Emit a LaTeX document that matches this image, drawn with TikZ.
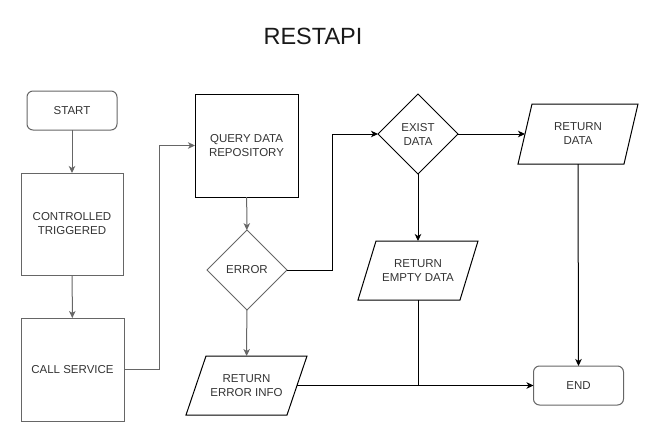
\documentclass[tikz,border=0pt]{standalone}
\usepackage{fontspec}
\setmainfont{Liberation Sans}
\usetikzlibrary{shapes.geometric,arrows.meta}
\definecolor{linegray}{HTML}{666666}
\definecolor{textgray}{HTML}{333333}
\tikzset{
  base/.style={font=\fontsize{11.5}{14}\selectfont, text=textgray, align=center,
    inner sep=0pt, outer sep=0pt, line width=1pt},
  terminal/.style={base, draw=linegray, rounded corners=6pt, minimum width=90pt, minimum height=39pt},
  process/.style={base, draw, minimum width=103pt, minimum height=103pt},
  grayprocess/.style={process, draw=linegray},
  decision/.style={base, draw, diamond, minimum width=80pt, minimum height=80pt},
  iobox/.style={base, minimum width=120pt, minimum height=60pt},
  flow/.style={line width=1pt, -{Stealth[length=7pt,width=6.5pt,inset=2pt]}},
  grayflow/.style={flow, draw=linegray},
  plain/.style={line width=1pt}
}
% outline of an input/output box: #1 node name, #2 horizontal slant
\newcommand{\ioframe}[2]{%
  \draw[line width=1pt] ([xshift=#2]#1.north west) -- (#1.north east)
    -- ([xshift=-#2]#1.south east) -- (#1.south west) -- cycle;}
\begin{document}
\begin{tikzpicture}[x=1pt,y=-1pt]
\useasboundingbox (0,0) rectangle (659,442);

\node[font=\fontsize{23.5}{28}\selectfont, text=black!90] (title) at (313,36) {RESTAPI};

% left column
\node[terminal] (start) at (72,110.5) {START};
\node[grayprocess, minimum width=102pt, minimum height=102pt] (ctrl) at (72,224) {CONTROLLED\\TRIGGERED};
\node[grayprocess] (call) at (72.5,369.5) {CALL SERVICE};

% query column
\node[process] (query) at (246.5,145.5) {QUERY DATA\\REPOSITORY};
\node[decision, draw=linegray] (error) at (247,270) {ERROR};
\node[iobox, minimum width=121pt, minimum height=59pt] (rerr) at (246.5,385.5) {RETURN\\ERROR INFO};
\ioframe{rerr}{20pt}

% data column
\node[decision] (exist) at (418,134) {EXIST\\DATA};
\node[iobox, minimum height=59pt] (rempty) at (418,270.5) {RETURN\\EMPTY DATA};
\ioframe{rempty}{18pt}

% right column
\node[iobox] (rdata) at (578,134) {RETURN\\DATA};
\ioframe{rdata}{14pt}
\node[terminal] (end) at (578.5,385.5) {END};

% connectors
\draw[grayflow] (start) -- (ctrl);
\draw[grayflow] (ctrl) -- (call);
\draw[grayflow] (call.east) -- ++(35.5,0) |- (query.west);
\draw[grayflow] (query) -- (error);
\draw[grayflow] (error) -- (rerr);
\draw[flow] (error.east) -- ++(45.5,0) |- (exist.west);
\draw[flow] (exist) -- ([xshift=7pt]rdata.west);
\draw[flow] (exist) -- (rempty);
\draw[flow] (rdata.south) -- (end.north);
\draw[flow] ([xshift=-10pt]rerr.east) -- (end.west);
\coordinate (join) at (rempty.center |- end.west);
\draw[plain] (rempty.south) -- (join);
\end{tikzpicture}
\end{document}
